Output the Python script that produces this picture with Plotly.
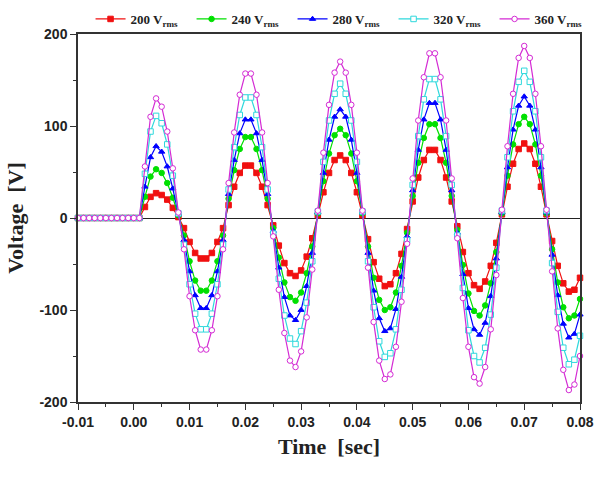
import plotly.graph_objects as go

time_s = [-0.010, -0.009, -0.008, -0.007, -0.006, -0.005, -0.004, -0.003, -0.002, -0.001,
          0.000, 0.001, 0.002, 0.003, 0.004, 0.005, 0.006, 0.007, 0.008, 0.009,
          0.010, 0.011, 0.012, 0.013, 0.014, 0.015, 0.016, 0.017, 0.018, 0.019,
          0.020, 0.021, 0.022, 0.023, 0.024, 0.025, 0.026, 0.027, 0.028, 0.029,
          0.030, 0.031, 0.032, 0.033, 0.034, 0.035, 0.036, 0.037, 0.038, 0.039,
          0.040, 0.041, 0.042, 0.043, 0.044, 0.045, 0.046, 0.047, 0.048, 0.049,
          0.050, 0.051, 0.052, 0.053, 0.054, 0.055, 0.056, 0.057, 0.058, 0.059,
          0.060, 0.061, 0.062, 0.063, 0.064, 0.065, 0.066, 0.067, 0.068, 0.069,
          0.070, 0.071, 0.072, 0.073, 0.074, 0.075, 0.076, 0.077, 0.078, 0.079,
          0.080]

v200 = [0, 0, 0, 0, 0, 0, 0, 0, 0, 0, 0, 0,
        12, 23, 27, 25, 20, 11, 1,
        -11, -26, -38, -44, -44, -38, -26, -11,
        14, 34, 49, 57, 57, 49, 34, 14,
        -8, -30, -49, -60, -63, -57, -42, -22,
        3, 28, 49, 63, 68, 63, 49, 28, 3,
        -23, -48, -66, -74, -72, -60, -39, -12,
        18, 44, 63, 74, 74, 63, 44, 18,
        -9, -37, -60, -73, -77, -69, -52, -27,
        4, 34, 59, 75, 81, 75, 59, 34, 4,
        -25, -52, -71, -80, -78, -65]

v240 = [0, 0, 0, 0, 0, 0, 0, 0, 0, 0, 0, 0,
        23, 45, 53, 49, 38, 22, 3,
        -19, -47, -68, -79, -79, -68, -47, -19,
        21, 52, 75, 88, 88, 75, 52, 21,
        -11, -43, -70, -86, -90, -81, -60, -31,
        5, 40, 70, 90, 97, 90, 70, 40, 5,
        -31, -65, -89, -100, -97, -81, -52, -16,
        24, 60, 87, 102, 102, 87, 60, 24,
        -13, -51, -82, -101, -106, -95, -71, -37,
        5, 46, 80, 102, 110, 102, 80, 46, 5,
        -34, -70, -97, -109, -106, -88]

v280 = [0, 0, 0, 0, 0, 0, 0, 0, 0, 0, 0, 0,
        34, 66, 78, 72, 56, 32, 4,
        -24, -58, -84, -98, -98, -84, -58, -24,
        26, 63, 92, 107, 107, 92, 63, 26,
        -14, -54, -86, -106, -111, -100, -74, -38,
        6, 49, 85, 110, 118, 110, 85, 49, 6,
        -38, -79, -109, -123, -120, -99, -64, -20,
        30, 74, 107, 125, 125, 107, 74, 30,
        -16, -61, -98, -121, -127, -114, -85, -44,
        6, 55, 96, 122, 132, 122, 96, 55, 6,
        -40, -84, -115, -130, -126, -105]

v320 = [0, 0, 0, 0, 0, 0, 0, 0, 0, 0, 0, 0,
        48, 94, 111, 103, 80, 46, 5,
        -29, -72, -104, -121, -121, -104, -72, -29,
        31, 77, 112, 131, 131, 112, 77, 31,
        -17, -66, -106, -131, -137, -123, -92, -47,
        7, 61, 106, 135, 146, 135, 106, 61, 7,
        -47, -97, -134, -151, -147, -121, -78, -24,
        36, 89, 129, 151, 151, 129, 89, 36,
        -19, -76, -122, -150, -157, -141, -105, -54,
        8, 66, 116, 148, 160, 148, 116, 66, 8,
        -49, -102, -141, -159, -154, -128]

v360 = [0, 0, 0, 0, 0, 0, 0, 0, 0, 0, 0, 0,
        56, 110, 130, 121, 94, 54, 6,
        -34, -85, -122, -143, -143, -122, -85, -34,
        38, 93, 134, 157, 157, 134, 93, 38,
        -20, -78, -125, -155, -162, -145, -108, -56,
        8, 71, 123, 158, 170, 158, 123, 71, 8,
        -54, -113, -155, -175, -170, -140, -91, -28,
        43, 106, 153, 179, 179, 153, 106, 43,
        -22, -87, -140, -173, -180, -162, -121, -62,
        9, 78, 135, 174, 187, 174, 135, 78, 9,
        -58, -120, -165, -187, -181, -150]

x_tick_vals = [-0.01, 0.00, 0.01, 0.02, 0.03, 0.04, 0.05, 0.06, 0.07, 0.08]
x_tick_text = ["-0.01", "0.00", "0.01", "0.02", "0.03", "0.04", "0.05", "0.06", "0.07", "0.08"]
y_tick_vals = [-200, -100, 0, 100, 200]
y_tick_text = ["-200", "-100", "0", "100", "200"]

series_names = ["200 V<sub>rms</sub>", "240 V<sub>rms</sub>", "280 V<sub>rms</sub>",
                "320 V<sub>rms</sub>", "360 V<sub>rms</sub>"]
series_values = [v200, v240, v280, v320, v360]
series_colors = ["#f01010", "#00e000", "#0000ff", "#2ed8dc", "#d42ad4"]
series_symbols = ["square", "circle", "triangle-up", "square", "circle"]
series_fills = ["#f01010", "#00e000", "#0000ff", "#ffffff", "#ffffff"]

fig = go.Figure()
for name, vals, col, sym, fill in zip(series_names, series_values, series_colors,
                                      series_symbols, series_fills):
    fig.add_trace(go.Scatter(
        x=time_s, y=vals, name=name, mode="lines+markers",
        line=dict(color=col, width=1.2),
        marker=dict(symbol=sym, size=5.5, color=fill, line=dict(color=col, width=1)),
        cliponaxis=False,
    ))

tick_font = dict(family="Liberation Sans", size=14, color="#222", weight="bold")
title_font = dict(family="Liberation Serif", size=22, color="#222", weight="bold")

fig.update_layout(
    width=598, height=485,
    margin=dict(l=78, r=18, t=34, b=83, autoexpand=False),
    plot_bgcolor="white", paper_bgcolor="white",
    showlegend=True,
    legend=dict(orientation="h", x=0.025, y=1.0, xanchor="left", yanchor="bottom",
                font=dict(family="Liberation Serif", size=13, color="#222", weight="bold"),
                bgcolor="rgba(0,0,0,0)", entrywidth=56, entrywidthmode="pixels",
                itemwidth=30, tracegroupgap=0),
    xaxis=dict(range=[-0.01, 0.08], tickmode="array", tickvals=x_tick_vals,
               ticktext=x_tick_text,
               ticks="outside", ticklen=6, tickwidth=1.2, tickcolor="#333",
               showline=True, linecolor="#333", linewidth=1.5, mirror=True,
               showgrid=False, zeroline=False, tickfont=tick_font,
               minor=dict(ticks="outside", ticklen=3, tickcolor="#333",
                          tickmode="linear", tick0=-0.005, dtick=0.01),
               title=dict(text="Time  [sec]", font=title_font, standoff=10)),
    yaxis=dict(range=[-200, 200], tickmode="array", tickvals=y_tick_vals,
               ticktext=y_tick_text,
               ticks="outside", ticklen=6, tickwidth=1.2, tickcolor="#333",
               showline=True, linecolor="#333", linewidth=1.5, mirror=True,
               showgrid=False, zeroline=True, zerolinecolor="#222", zerolinewidth=1.2,
               tickfont=tick_font,
               minor=dict(ticks="outside", ticklen=3, tickcolor="#333",
                          tickmode="linear", tick0=-150, dtick=100),
               title=dict(text="Voltage  [V]", font=title_font, standoff=10)),
)

fig.write_html("out.html")
